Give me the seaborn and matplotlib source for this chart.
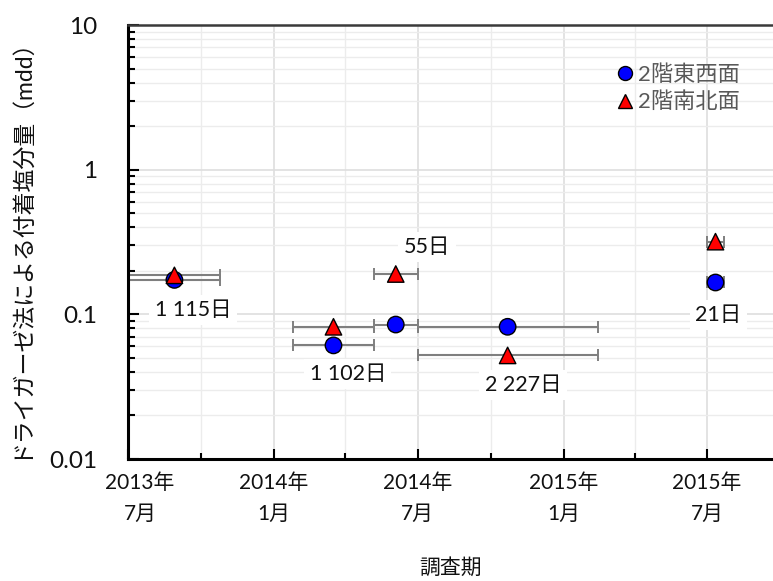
import matplotlib
matplotlib.use("Agg")
import matplotlib.pyplot as plt
import matplotlib.dates as mdates
import matplotlib.ticker as mticker
import matplotlib.transforms as mtransforms
import seaborn as sns
import pandas as pd
import numpy as np

# ---- data ----
series_names = ["2階東西面", "2階南北面"]
period_start = ["2013-07-02", "2014-01-25", "2014-05-07", "2014-07-01", "2015-07-01"]
period_end = ["2013-10-25", "2014-05-07", "2014-07-01", "2015-02-13", "2015-07-22"]
east_west = [0.173, 0.061, 0.085, 0.082, 0.166]
south_north = [0.186, 0.082, 0.190, 0.052, 0.318]
period_labels = ["1 115日", "1 102日", "55日", "2 227日", "21日"]
label_dates = ["2013-09-21", "2014-04-04", "2014-07-13", "2014-11-11", "2015-07-15"]
label_values = [0.107, 0.0387, 0.292, 0.0325, 0.099]
x_tick_labels = ["2013年\n7月", "2014年\n1月", "2014年\n7月", "2015年\n1月", "2015年\n7月"]
x_tick_dates = ["2013-07-01", "2014-01-01", "2014-07-01", "2015-01-01", "2015-07-01"]

sns.set_theme(style="white")
FONT = ["Lato", "Noto Sans CJK JP", "DejaVu Sans"]
plt.rcParams["font.family"] = FONT

start = mdates.date2num(pd.to_datetime(period_start))
end = mdates.date2num(pd.to_datetime(period_end))
mid = (start + end) / 2
half = (end - start) / 2

df = pd.concat([
    pd.DataFrame({"x": mid, "half": half, "value": east_west, "series": series_names[0]}),
    pd.DataFrame({"x": mid, "half": half, "value": south_north, "series": series_names[1]}),
], ignore_index=True)

fig = plt.figure(figsize=(7.73, 5.81), dpi=100)
ax = fig.add_axes([128 / 773, 1 - 459 / 581, 645 / 773, 434 / 581])

# error bars
for name in series_names:
    d = df[df["series"] == name]
    ax.errorbar(d["x"], d["value"], xerr=d["half"], fmt="none", ecolor="#7f7f7f",
                elinewidth=1.5, capsize=4, capthick=1.4, zorder=2)

sns.scatterplot(data=df, x="x", y="value", hue="series", style="series",
                palette={series_names[0]: "#0000ff", series_names[1]: "#ff0000"},
                markers={series_names[0]: "o", series_names[1]: "^"},
                s=140, edgecolor="black", linewidth=1.0, zorder=3, ax=ax)

ax.set_yscale("log")
ax.set_ylim(0.01, 10)
ax.set_xlim(mdates.date2num(pd.Timestamp("2013-07-01")), mdates.date2num(pd.Timestamp("2015-09-22")))

# ticks
ax.xaxis.set_major_locator(mticker.FixedLocator(mdates.date2num(pd.to_datetime(x_tick_dates))))
ax.xaxis.set_major_formatter(mticker.FixedFormatter(x_tick_labels))
ax.xaxis.set_minor_locator(mdates.MonthLocator(bymonth=[4, 10]))
ax.yaxis.set_major_locator(mticker.LogLocator(base=10, numticks=10))
ax.yaxis.set_minor_locator(mticker.LogLocator(base=10, subs=np.arange(2, 10), numticks=20))
ax.yaxis.set_major_formatter(mticker.FuncFormatter(lambda v, p: f"{v:g}"))
ax.yaxis.set_minor_formatter(mticker.NullFormatter())

ax.tick_params(axis="x", which="major", direction="in", length=7, width=1.5, color="black",
               labelsize=15, pad=10, bottom=True)
ax.tick_params(axis="x", which="minor", direction="in", length=4, width=1.5, color="black", bottom=True)
ax.tick_params(axis="y", which="major", direction="in", length=8, width=1.5, color="black",
               labelsize=17.5, pad=22, left=True)
ax.tick_params(axis="y", which="minor", direction="in", length=5, width=1.5, color="black", left=True)
xlabs = ax.get_xticklabels()
for lab in xlabs:
    lab.set_linespacing(1.7)
    lab.set_color("#111111")
xlabs[0].set_transform(xlabs[0].get_transform() +
                       mtransforms.ScaledTranslation(12 / 100, 0, fig.dpi_scale_trans))
for lab in ax.get_yticklabels():
    lab.set_color("#111111")

ax.grid(True, which="major", axis="both", color="#dedede", linewidth=1.2, zorder=0)
ax.grid(True, which="minor", axis="both", color="#ececec", linewidth=1.0, zorder=0)
ax.set_axisbelow(True)

for s in ["left", "bottom"]:
    ax.spines[s].set_color("black")
    ax.spines[s].set_linewidth(2.2)
ax.spines["top"].set_color("#3a3a3a")
ax.spines["top"].set_linewidth(1.8)
ax.spines["right"].set_visible(False)

ax.set_xlabel("調査期", fontsize=15, labelpad=24, color="#111111")
ax.set_ylabel("ドライガーゼ法による付着塩分量（mdd）", fontsize=16.5, labelpad=6, color="#111111")
ax.yaxis.set_label_coords(-0.152, 0.5)

# period labels
for t, dt, v in zip(period_labels, label_dates, label_values):
    ax.text(mdates.date2num(pd.Timestamp(dt)), v, t, ha="center", va="center", fontsize=15.5,
            color="#111111", zorder=4,
            bbox=dict(boxstyle="square,pad=0.25", facecolor="white", edgecolor="none"))

handles, labels = ax.get_legend_handles_labels()
leg = ax.legend(handles, labels, loc="upper left", bbox_to_anchor=(0.739, 0.93),
                frameon=False, fontsize=16, handletextpad=0.1, handlelength=1.0,
                labelspacing=0.3, markerscale=0.85, borderaxespad=0)
for txt in leg.get_texts():
    txt.set_color("#595959")

fig.savefig("out.png", dpi=100)
